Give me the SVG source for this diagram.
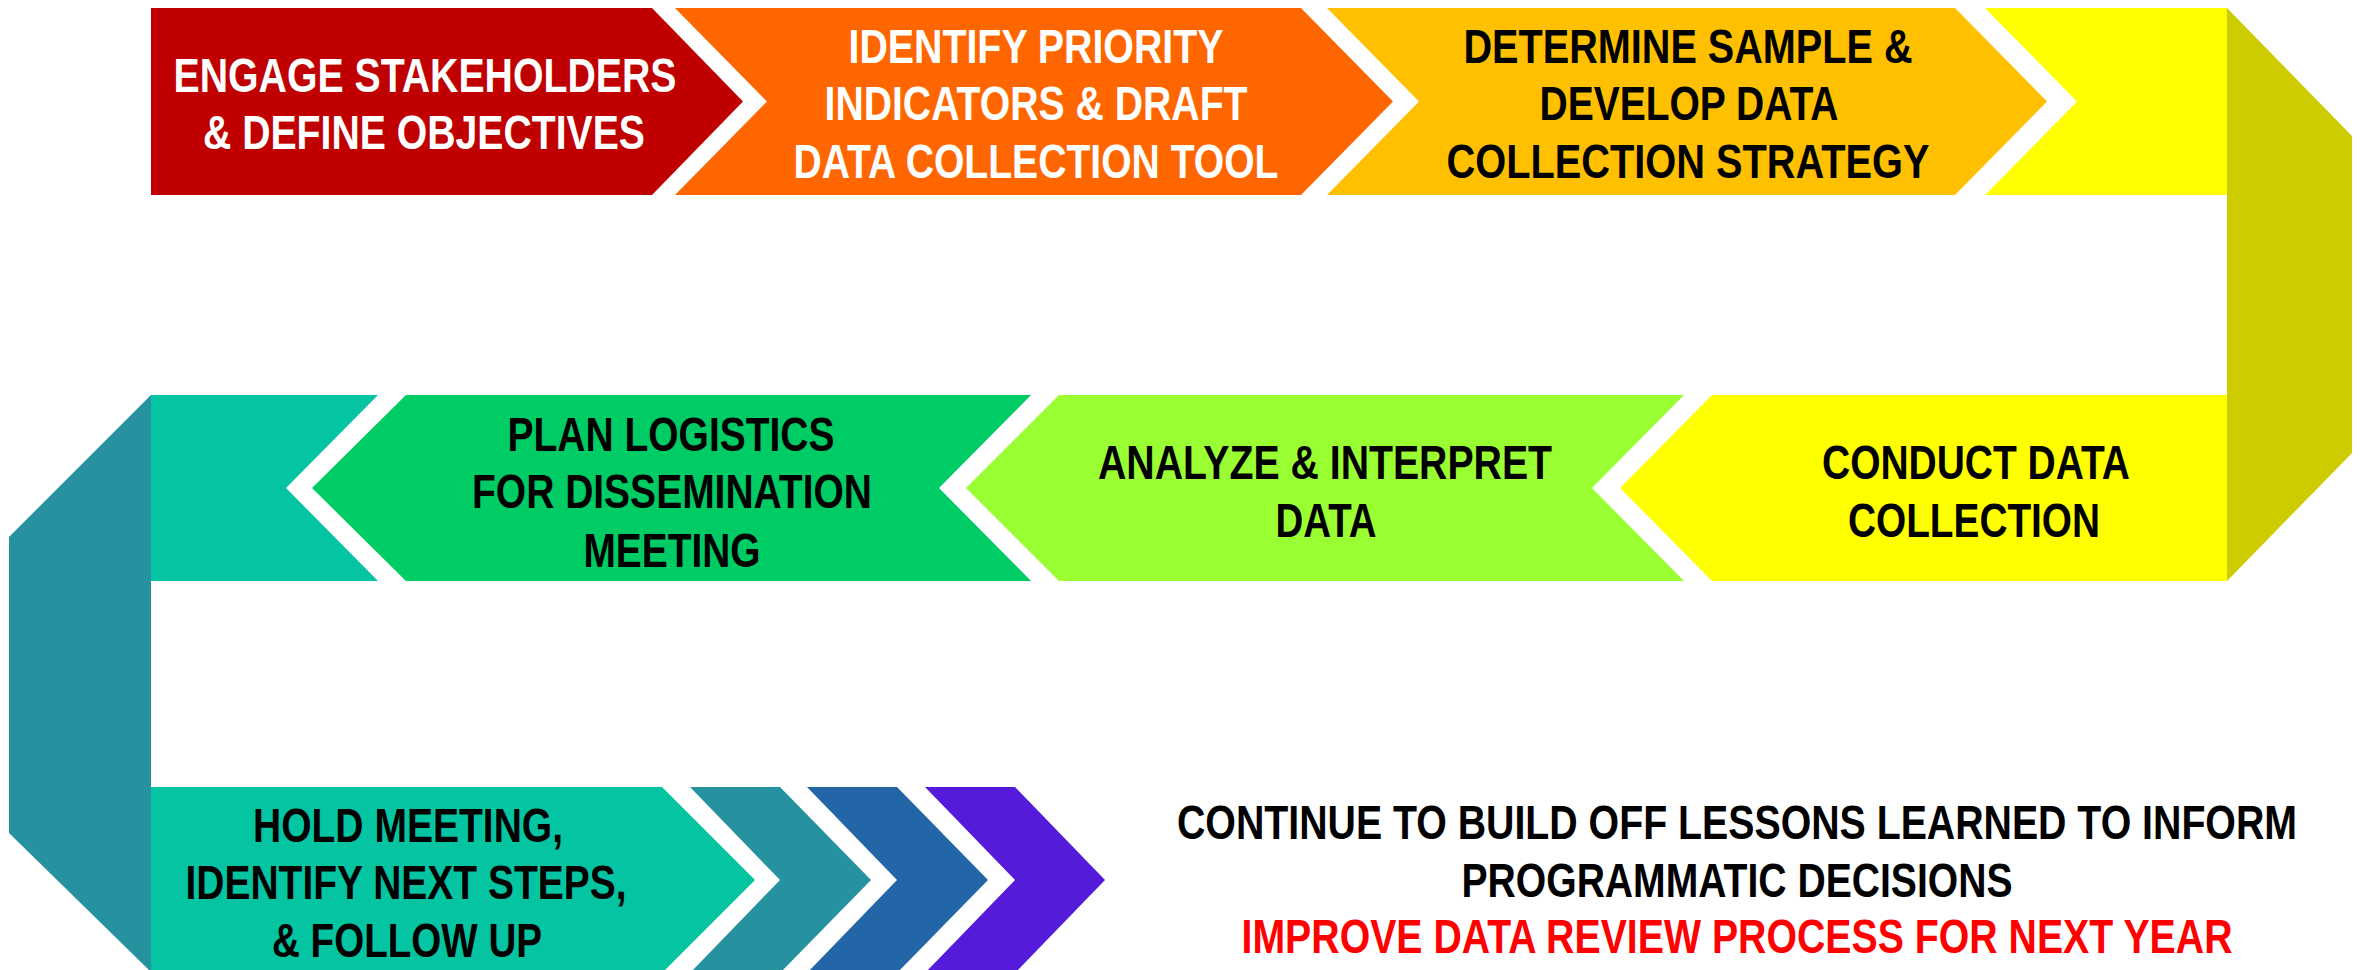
<svg xmlns="http://www.w3.org/2000/svg" width="2367" height="970" viewBox="0 0 2367 970">
<style>
.t{font-family:"Liberation Sans Narrow","Liberation Sans",Arial,sans-serif;font-weight:bold;font-size:48px;text-anchor:middle}
.w{fill:#FFFFFF}.k{fill:#000000}.r{fill:#FF0000}
</style>
<rect width="2367" height="970" fill="#FFFFFF"/>
<g id="connectors">
  <g id="turn-right"><path d="M2227,8 L2352,136 V453 L2227,581 Z" fill="#CCCC00"/></g>
  <g id="turn-left"><path d="M151,395 L9,537 V833 L151,972 Z" fill="#26929F"/></g>
</g>
<g id="step1">
  <path d="M151,8 H652 L743,101.5 L652,195 H151 Z" fill="#C00000"/>
  <text class="t w" x="425" y="92" textLength="503" lengthAdjust="spacingAndGlyphs">ENGAGE STAKEHOLDERS</text>
  <text class="t w" x="424" y="149" textLength="442" lengthAdjust="spacingAndGlyphs">&amp; DEFINE OBJECTIVES</text>
</g>
<g id="step2">
  <path d="M675,8 H1301 L1393,101.5 L1301,195 H675 L767,101.5 Z" fill="#FF6600"/>
  <text class="t w" x="1036" y="63" textLength="375" lengthAdjust="spacingAndGlyphs">IDENTIFY PRIORITY</text>
  <text class="t w" x="1036" y="120" textLength="423" lengthAdjust="spacingAndGlyphs">INDICATORS &amp; DRAFT</text>
  <text class="t w" x="1036" y="178" textLength="485" lengthAdjust="spacingAndGlyphs">DATA COLLECTION TOOL</text>
</g>
<g id="step3">
  <path d="M1327,8 H1955 L2047,101.5 L1955,195 H1327 L1419,101.5 Z" fill="#FFC000"/>
  <text class="t k" x="1688" y="63" textLength="449" lengthAdjust="spacingAndGlyphs">DETERMINE SAMPLE &amp;</text>
  <text class="t k" x="1689" y="120" textLength="299" lengthAdjust="spacingAndGlyphs">DEVELOP DATA</text>
  <text class="t k" x="1688" y="178" textLength="483" lengthAdjust="spacingAndGlyphs">COLLECTION STRATEGY</text>
</g>
<g id="step3-tail">
  <path d="M1985,8 H2227 V195 H1985 L2077,101.5 Z" fill="#FFFF00"/>
</g>
<g id="step4">
  <path d="M2227,395 V581 H1712 L1620,488 L1712,395 Z" fill="#FFFF00"/>
  <text class="t k" x="1976" y="479" textLength="308" lengthAdjust="spacingAndGlyphs">CONDUCT DATA</text>
  <text class="t k" x="1974" y="537" textLength="252" lengthAdjust="spacingAndGlyphs">COLLECTION</text>
</g>
<g id="step5">
  <path d="M1684,395 L1592,488 L1684,581 H1059 L966,488 L1059,395 Z" fill="#99FF33"/>
  <text class="t k" x="1325" y="479" textLength="454" lengthAdjust="spacingAndGlyphs">ANALYZE &amp; INTERPRET</text>
  <text class="t k" x="1326" y="537" textLength="101" lengthAdjust="spacingAndGlyphs">DATA</text>
</g>
<g id="step6">
  <path d="M1031,395 L939,488 L1031,581 H406 L312,488 L406,395 Z" fill="#00CC66"/>
  <text class="t k" x="671" y="451" textLength="327" lengthAdjust="spacingAndGlyphs">PLAN LOGISTICS</text>
  <text class="t k" x="672" y="508" textLength="400" lengthAdjust="spacingAndGlyphs">FOR DISSEMINATION</text>
  <text class="t k" x="672" y="567" textLength="177" lengthAdjust="spacingAndGlyphs">MEETING</text>
</g>
<g id="step6-tail">
  <path d="M378,395 L286,488 L378,581 H151 V395 Z" fill="#04C4A2"/>
</g>
<g id="step7">
  <path d="M151,787 H662 L755,880 L662,973 H151 Z" fill="#04C4A2"/>
  <text class="t k" x="408" y="842" textLength="310" lengthAdjust="spacingAndGlyphs">HOLD MEETING,</text>
  <text class="t k" x="406" y="899" textLength="441" lengthAdjust="spacingAndGlyphs">IDENTIFY NEXT STEPS,</text>
  <text class="t k" x="407" y="957" textLength="270" lengthAdjust="spacingAndGlyphs">&amp; FOLLOW UP</text>
</g>
<g id="chevron1"><path d="M690,787 H780 L871,880 L780,973 H690 L780,880 Z" fill="#26929F"/></g>
<g id="chevron2"><path d="M807,787 H897 L988,880 L897,973 H807 L897,880 Z" fill="#2366A8"/></g>
<g id="chevron3"><path d="M925,787 H1015 L1105,880 L1015,973 H925 L1015,880 Z" fill="#541BDB"/></g>
<g id="outcome">
  <text class="t k" x="1737" y="839" textLength="1120" lengthAdjust="spacingAndGlyphs">CONTINUE TO BUILD OFF LESSONS LEARNED TO INFORM</text>
  <text class="t k" x="1737" y="897" textLength="551" lengthAdjust="spacingAndGlyphs">PROGRAMMATIC DECISIONS</text>
  <text class="t r" x="1737" y="953" textLength="991" lengthAdjust="spacingAndGlyphs">IMPROVE DATA REVIEW PROCESS FOR NEXT YEAR</text>
</g>
</svg>
